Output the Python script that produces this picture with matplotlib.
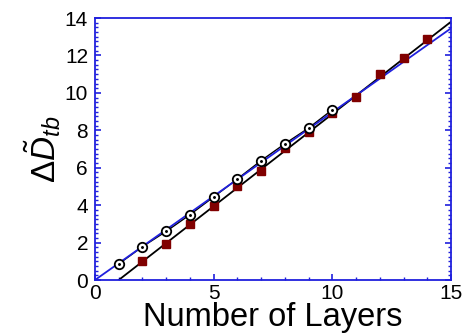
import matplotlib
matplotlib.use("Agg")
import matplotlib.pyplot as plt
import numpy as np
from matplotlib.ticker import MultipleLocator

plt.rcParams['font.family'] = ['Liberation Sans', 'DejaVu Sans']
plt.rcParams['mathtext.fontset'] = 'custom'
plt.rcParams['mathtext.rm'] = 'Liberation Sans'
plt.rcParams['mathtext.it'] = 'Liberation Sans:italic'

circ_x = [1, 2, 3, 4, 5, 6, 7, 8, 9, 10]
circ_y = [0.86, 1.78, 2.60, 3.49, 4.44, 5.40, 6.38, 7.28, 8.12, 9.10]
sq_x = [2, 3, 4, 5, 6, 7, 8, 9, 10, 11, 12, 13, 14]
sq_y = [1.03, 1.91, 3.01, 3.95, 5.00, 5.80, 7.05, 7.93, 8.91, 9.80, 11.01, 11.88, 12.88]
blue_fit_x = [0, 15]
blue_fit_y = [0, 13.45]
black_fit_x = [1, 15]
black_fit_y = [0, 13.8]

fig = plt.figure(figsize=(4.64, 3.35), dpi=100)
ax = fig.add_axes([95/464, 55/335, 356/464, 262/335])

ax.plot(black_fit_x, black_fit_y, color='black', lw=1.3, zorder=2)
ax.plot(blue_fit_x, blue_fit_y, color='#2020dd', lw=1.3, zorder=3)
ax.plot(circ_x, circ_y, color='black', lw=1.0, zorder=2)
ax.plot(sq_x, sq_y, 's', color='#800000', ms=6.2, zorder=4)
ax.plot(circ_x, circ_y, 'o', mfc='white', mec='black', mew=1.3, ms=6.8, zorder=5)
ax.plot(circ_x, circ_y, '.', color='black', ms=2.2, zorder=6)

ax.set_xlim(0, 15)
ax.set_ylim(0, 14)
ax.xaxis.set_major_locator(MultipleLocator(5))
ax.xaxis.set_minor_locator(MultipleLocator(1))
ax.yaxis.set_major_locator(MultipleLocator(2))
ax.yaxis.set_minor_locator(MultipleLocator(0.25))
for s in ax.spines.values():
    s.set_color('#2020dd')
    s.set_linewidth(1.3)
ax.tick_params(which='both', direction='in', color='#2020dd', right=True, top=False,
               labelsize=15)
ax.tick_params(axis='x', which='major', pad=3)
ax.tick_params(axis='y', which='major', pad=5)
ax.tick_params(which='major', length=4, width=1.2)
ax.tick_params(which='minor', length=2.5, width=1.0)
ax.set_xlabel('Number of Layers', fontsize=23.5, labelpad=-1)
ax.set_ylabel(r'$\Delta\tilde{D}_{tb}$', fontsize=24, labelpad=1)

fig.savefig('out.png', dpi=100)
